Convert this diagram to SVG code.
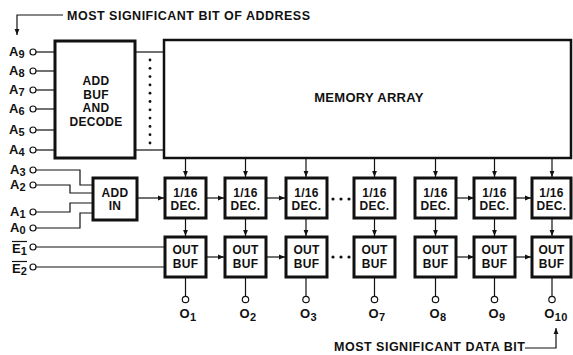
<svg xmlns="http://www.w3.org/2000/svg" width="573" height="355" viewBox="0 0 573 355">
<style>
text{font-family:"Liberation Sans",Arial,sans-serif;font-weight:bold;fill:#111}
.t{font-size:12px;text-anchor:middle;letter-spacing:0.3px}
.big{font-size:12.5px;letter-spacing:0.5px}
.lbl{font-size:13px}
.sub{font-size:11px}
.box{fill:#fff;stroke:#111;stroke-width:3}
.mem{fill:#fff;stroke:#111;stroke-width:2.5}
.ln{fill:none;stroke:#111;stroke-width:1.2}
.pin{fill:#fff;stroke:#111;stroke-width:1.2}
.dot{fill:#111}
</style>
<defs>
<marker id="ah" viewBox="0 0 10 10" refX="10" refY="5" markerWidth="6" markerHeight="6" markerUnits="userSpaceOnUse" orient="auto">
<path d="M0,1 L10,5 L0,9 z" fill="#111"/>
</marker>
</defs>

<g id="connectors">
<path class="ln" d="M63,15 H17 V35" marker-end="url(#ah)"/>
<path class="ln" d="M525,348 H556 V328" marker-end="url(#ah)"/>
<line class="ln" x1="36" y1="52" x2="55" y2="52"/>
<line class="ln" x1="36" y1="71" x2="55" y2="71"/>
<line class="ln" x1="36" y1="90" x2="55" y2="90"/>
<line class="ln" x1="36" y1="109" x2="55" y2="109"/>
<line class="ln" x1="36" y1="130" x2="55" y2="130"/>
<line class="ln" x1="36" y1="150" x2="55" y2="150"/>
<line class="ln" x1="136" y1="52" x2="164" y2="52"/>
<line class="ln" x1="136" y1="150" x2="164" y2="150"/>
<path class="ln" d="M36,170 H80 V185 H93"/>
<path class="ln" d="M36,185 H70 V193 H93"/>
<path class="ln" d="M36,212 H70 V203 H93"/>
<path class="ln" d="M36,228 H80 V213 H93"/>
<line class="ln" x1="36" y1="247" x2="165" y2="247"/>
<line class="ln" x1="36" y1="267" x2="165" y2="267"/>
<line class="ln" x1="137" y1="198" x2="164" y2="198" marker-end="url(#ah)"/>
<line class="ln" x1="185.5" y1="159" x2="185.5" y2="177" marker-end="url(#ah)"/>
<line class="ln" x1="245.5" y1="159" x2="245.5" y2="177" marker-end="url(#ah)"/>
<line class="ln" x1="306" y1="159" x2="306" y2="177" marker-end="url(#ah)"/>
<line class="ln" x1="374.5" y1="159" x2="374.5" y2="177" marker-end="url(#ah)"/>
<line class="ln" x1="435.5" y1="159" x2="435.5" y2="177" marker-end="url(#ah)"/>
<line class="ln" x1="494.5" y1="159" x2="494.5" y2="177" marker-end="url(#ah)"/>
<line class="ln" x1="552" y1="159" x2="552" y2="177" marker-end="url(#ah)"/>
<line class="ln" x1="206" y1="198" x2="224" y2="198" marker-end="url(#ah)"/>
<line class="ln" x1="266" y1="198" x2="285" y2="198" marker-end="url(#ah)"/>
<line class="ln" x1="456" y1="198" x2="474" y2="198" marker-end="url(#ah)"/>
<line class="ln" x1="515" y1="198" x2="531" y2="198" marker-end="url(#ah)"/>
<line class="ln" x1="206" y1="257" x2="224" y2="257" marker-end="url(#ah)"/>
<line class="ln" x1="266" y1="257" x2="285" y2="257" marker-end="url(#ah)"/>
<line class="ln" x1="456" y1="257" x2="474" y2="257" marker-end="url(#ah)"/>
<line class="ln" x1="515" y1="257" x2="531" y2="257" marker-end="url(#ah)"/>
<line class="ln" x1="185.5" y1="219" x2="185.5" y2="236" marker-end="url(#ah)"/>
<line class="ln" x1="245.5" y1="219" x2="245.5" y2="236" marker-end="url(#ah)"/>
<line class="ln" x1="306" y1="219" x2="306" y2="236" marker-end="url(#ah)"/>
<line class="ln" x1="374.5" y1="219" x2="374.5" y2="236" marker-end="url(#ah)"/>
<line class="ln" x1="435.5" y1="219" x2="435.5" y2="236" marker-end="url(#ah)"/>
<line class="ln" x1="494.5" y1="219" x2="494.5" y2="236" marker-end="url(#ah)"/>
<line class="ln" x1="552" y1="219" x2="552" y2="236" marker-end="url(#ah)"/>
<line class="ln" x1="185.5" y1="278" x2="185.5" y2="296"/>
<line class="ln" x1="245.5" y1="278" x2="245.5" y2="296"/>
<line class="ln" x1="306" y1="278" x2="306" y2="296"/>
<line class="ln" x1="374.5" y1="278" x2="374.5" y2="296"/>
<line class="ln" x1="435.5" y1="278" x2="435.5" y2="296"/>
<line class="ln" x1="494.5" y1="278" x2="494.5" y2="296"/>
<line class="ln" x1="552" y1="278" x2="552" y2="296"/>
</g>

<g id="note-top">
<text class="big" x="67" y="20">MOST SIGNIFICANT BIT OF ADDRESS</text>
</g>
<g id="note-bottom">
<text class="big" x="334" y="351">MOST SIGNIFICANT DATA BIT</text>
</g>

<g id="in-A9"><circle class="pin" cx="33" cy="52" r="3"/><text class="lbl" x="9" y="56">A<tspan class="sub" dy="2">9</tspan></text></g>
<g id="in-A8"><circle class="pin" cx="33" cy="71" r="3"/><text class="lbl" x="9" y="75">A<tspan class="sub" dy="2">8</tspan></text></g>
<g id="in-A7"><circle class="pin" cx="33" cy="90" r="3"/><text class="lbl" x="9" y="94">A<tspan class="sub" dy="2">7</tspan></text></g>
<g id="in-A6"><circle class="pin" cx="33" cy="109" r="3"/><text class="lbl" x="9" y="113">A<tspan class="sub" dy="2">6</tspan></text></g>
<g id="in-A5"><circle class="pin" cx="33" cy="130" r="3"/><text class="lbl" x="9" y="134">A<tspan class="sub" dy="2">5</tspan></text></g>
<g id="in-A4"><circle class="pin" cx="33" cy="150" r="3"/><text class="lbl" x="9" y="154">A<tspan class="sub" dy="2">4</tspan></text></g>
<g id="in-A3"><circle class="pin" cx="33" cy="170" r="3"/><text class="lbl" x="10" y="174">A<tspan class="sub" dy="2">3</tspan></text></g>
<g id="in-A2"><circle class="pin" cx="33" cy="185" r="3"/><text class="lbl" x="10" y="189">A<tspan class="sub" dy="2">2</tspan></text></g>
<g id="in-A1"><circle class="pin" cx="33" cy="212" r="3"/><text class="lbl" x="10" y="216">A<tspan class="sub" dy="2">1</tspan></text></g>
<g id="in-A0"><circle class="pin" cx="33" cy="228" r="3"/><text class="lbl" x="10" y="232">A<tspan class="sub" dy="2">0</tspan></text></g>
<g id="in-E1"><circle class="pin" cx="33" cy="247" r="3"/><text class="lbl" x="12" y="253">E<tspan class="sub" dy="2">1</tspan></text><line class="ln" x1="12" y1="241.5" x2="27" y2="241.5"/></g>
<g id="in-E2"><circle class="pin" cx="33" cy="267" r="3"/><text class="lbl" x="12" y="273">E<tspan class="sub" dy="2">2</tspan></text><line class="ln" x1="12" y1="261.5" x2="27" y2="261.5"/></g>

<g id="add-buf">
<rect class="box" x="55" y="41" width="80" height="117"/>
<text class="t" x="96" y="85">ADD</text>
<text class="t" x="96" y="98.5">BUF</text>
<text class="t" x="96" y="112">AND</text>
<text class="t" x="96" y="125.5">DECODE</text>
</g>
<g id="row-lines">
<circle class="dot" cx="150" cy="60" r="1.4"/>
<circle class="dot" cx="150" cy="68.3" r="1.4"/>
<circle class="dot" cx="150" cy="76.6" r="1.4"/>
<circle class="dot" cx="150" cy="84.9" r="1.4"/>
<circle class="dot" cx="150" cy="93.2" r="1.4"/>
<circle class="dot" cx="150" cy="101.5" r="1.4"/>
<circle class="dot" cx="150" cy="109.8" r="1.4"/>
<circle class="dot" cx="150" cy="118.1" r="1.4"/>
<circle class="dot" cx="150" cy="126.4" r="1.4"/>
<circle class="dot" cx="150" cy="134.7" r="1.4"/>
<circle class="dot" cx="150" cy="143" r="1.4"/>
</g>
<g id="memory-array">
<rect class="mem" x="164" y="40" width="407" height="118"/>
<text class="t" x="369" y="102" style="font-size:13px">MEMORY ARRAY</text>
</g>
<g id="add-in">
<rect class="box" x="93" y="178" width="44" height="42"/>
<text class="t" x="115" y="196.5">ADD</text>
<text class="t" x="115" y="210">IN</text>
</g>

<g id="dec1"><rect class="box" x="165" y="178" width="41" height="40"/><text class="t" x="185.5" y="196.5">1/16</text><text class="t" x="185.5" y="210">DEC.</text></g>
<g id="dec2"><rect class="box" x="225" y="178" width="41" height="40"/><text class="t" x="245.5" y="196.5">1/16</text><text class="t" x="245.5" y="210">DEC.</text></g>
<g id="dec3"><rect class="box" x="286" y="178" width="41" height="40"/><text class="t" x="306.5" y="196.5">1/16</text><text class="t" x="306.5" y="210">DEC.</text></g>
<g id="dec7"><rect class="box" x="354" y="178" width="41" height="40"/><text class="t" x="374.5" y="196.5">1/16</text><text class="t" x="374.5" y="210">DEC.</text></g>
<g id="dec8"><rect class="box" x="415" y="178" width="41" height="40"/><text class="t" x="435.5" y="196.5">1/16</text><text class="t" x="435.5" y="210">DEC.</text></g>
<g id="dec9"><rect class="box" x="474" y="178" width="41" height="40"/><text class="t" x="494.5" y="196.5">1/16</text><text class="t" x="494.5" y="210">DEC.</text></g>
<g id="dec10"><rect class="box" x="532" y="178" width="39" height="40"/><text class="t" x="551.5" y="196.5">1/16</text><text class="t" x="551.5" y="210">DEC.</text></g>
<g id="dec-ellipsis"><circle class="dot" cx="333" cy="199" r="1.6"/><circle class="dot" cx="341" cy="199" r="1.6"/><circle class="dot" cx="349" cy="199" r="1.6"/></g>

<g id="buf1"><rect class="box" x="165" y="237" width="41" height="40"/><text class="t" x="185.5" y="254">OUT</text><text class="t" x="185.5" y="267.5">BUF</text></g>
<g id="buf2"><rect class="box" x="225" y="237" width="41" height="40"/><text class="t" x="245.5" y="254">OUT</text><text class="t" x="245.5" y="267.5">BUF</text></g>
<g id="buf3"><rect class="box" x="286" y="237" width="41" height="40"/><text class="t" x="306.5" y="254">OUT</text><text class="t" x="306.5" y="267.5">BUF</text></g>
<g id="buf7"><rect class="box" x="354" y="237" width="41" height="40"/><text class="t" x="374.5" y="254">OUT</text><text class="t" x="374.5" y="267.5">BUF</text></g>
<g id="buf8"><rect class="box" x="415" y="237" width="41" height="40"/><text class="t" x="435.5" y="254">OUT</text><text class="t" x="435.5" y="267.5">BUF</text></g>
<g id="buf9"><rect class="box" x="474" y="237" width="41" height="40"/><text class="t" x="494.5" y="254">OUT</text><text class="t" x="494.5" y="267.5">BUF</text></g>
<g id="buf10"><rect class="box" x="532" y="237" width="39" height="40"/><text class="t" x="551.5" y="254">OUT</text><text class="t" x="551.5" y="267.5">BUF</text></g>
<g id="buf-ellipsis"><circle class="dot" cx="333" cy="257" r="1.6"/><circle class="dot" cx="341" cy="257" r="1.6"/><circle class="dot" cx="349" cy="257" r="1.6"/></g>

<g id="out-O1"><circle class="pin" cx="185.5" cy="299.5" r="3.2"/><text class="t" x="188" y="318" style="font-size:13px">O<tspan class="sub" dy="2.5">1</tspan></text></g>
<g id="out-O2"><circle class="pin" cx="245.5" cy="299.5" r="3.2"/><text class="t" x="248" y="318" style="font-size:13px">O<tspan class="sub" dy="2.5">2</tspan></text></g>
<g id="out-O3"><circle class="pin" cx="306" cy="299.5" r="3.2"/><text class="t" x="308.5" y="318" style="font-size:13px">O<tspan class="sub" dy="2.5">3</tspan></text></g>
<g id="out-O7"><circle class="pin" cx="374.5" cy="299.5" r="3.2"/><text class="t" x="377" y="318" style="font-size:13px">O<tspan class="sub" dy="2.5">7</tspan></text></g>
<g id="out-O8"><circle class="pin" cx="435.5" cy="299.5" r="3.2"/><text class="t" x="438" y="318" style="font-size:13px">O<tspan class="sub" dy="2.5">8</tspan></text></g>
<g id="out-O9"><circle class="pin" cx="494.5" cy="299.5" r="3.2"/><text class="t" x="497" y="318" style="font-size:13px">O<tspan class="sub" dy="2.5">9</tspan></text></g>
<g id="out-O10"><circle class="pin" cx="552" cy="299.5" r="3.2"/><text class="t" x="556" y="318" style="font-size:13px">O<tspan class="sub" dy="2.5">10</tspan></text></g>
</svg>
